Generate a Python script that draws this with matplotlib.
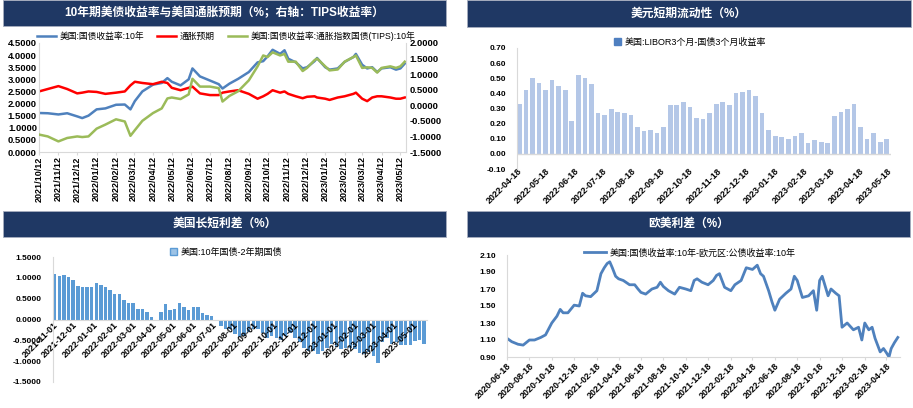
import matplotlib
matplotlib.use('Agg')
import matplotlib.pyplot as plt
from matplotlib.patches import Rectangle, Patch
import pandas as pd

plt.rcParams['font.family'] = ['Liberation Sans', 'Noto Sans CJK SC', 'DejaVu Sans']

## ---- data: panel 1 (10y yield, breakeven, TIPS) ----
dates_p1 = ['2021-10-12', '2021-10-26', '2021-11-12', '2021-11-26', '2021-12-12', '2021-12-20', '2021-12-30',
            '2022-01-12', '2022-01-26', '2022-02-12', '2022-02-26', '2022-03-07', '2022-03-14', '2022-03-26',
            '2022-04-12', '2022-04-26', '2022-05-05', '2022-05-12', '2022-05-26', '2022-06-08', '2022-06-14',
            '2022-06-26', '2022-07-12', '2022-07-26', '2022-08-01', '2022-08-12', '2022-08-26', '2022-09-12',
            '2022-09-26', '2022-10-05', '2022-10-12', '2022-10-20', '2022-11-01', '2022-11-08', '2022-11-14',
            '2022-11-26', '2022-12-07', '2022-12-14', '2022-12-26', '2022-12-30', '2023-01-12', '2023-01-19',
            '2023-02-01', '2023-02-12', '2023-02-26', '2023-03-02', '2023-03-12', '2023-03-20', '2023-03-28',
            '2023-04-05', '2023-04-12', '2023-04-26', '2023-05-05', '2023-05-12', '2023-05-19']
us10y = [1.61, 1.60, 1.55, 1.60, 1.47, 1.40, 1.50, 1.76, 1.80, 1.95, 1.96, 1.76, 2.10, 2.50, 2.78, 2.85, 3.05,
         2.90, 2.75, 3.00, 3.45, 3.12, 2.95, 2.80, 2.62, 2.82, 3.02, 3.30, 3.70, 3.75, 3.95, 4.22, 4.05, 4.20,
         3.85, 3.70, 3.45, 3.50, 3.75, 3.88, 3.50, 3.40, 3.45, 3.72, 3.92, 4.05, 3.60, 3.45, 3.50, 3.30, 3.45,
         3.50, 3.40, 3.45, 3.65]
breakeven = [2.50, 2.60, 2.72, 2.60, 2.42, 2.45, 2.50, 2.48, 2.40, 2.45, 2.50, 2.75, 2.90, 2.85, 2.80, 2.90, 2.85,
             2.65, 2.55, 2.65, 2.70, 2.42, 2.35, 2.35, 2.45, 2.50, 2.55, 2.40, 2.20, 2.30, 2.40, 2.55, 2.45, 2.50,
             2.40, 2.30, 2.22, 2.28, 2.30, 2.25, 2.20, 2.15, 2.25, 2.30, 2.40, 2.45, 2.20, 2.10, 2.25, 2.30, 2.30,
             2.25, 2.20, 2.20, 2.25]
tips = [-0.94, -1.00, -1.16, -1.05, -1.00, -1.02, -1.00, -0.75, -0.62, -0.45, -0.52, -0.98, -0.80, -0.50, -0.25,
        -0.10, 0.22, 0.25, 0.20, 0.35, 0.85, 0.60, 0.60, 0.55, 0.12, 0.30, 0.45, 0.80, 1.25, 1.60, 1.55, 1.70,
        1.60, 1.65, 1.40, 1.40, 1.10, 1.20, 1.45, 1.50, 1.25, 1.12, 1.15, 1.40, 1.55, 1.60, 1.20, 1.22, 1.20,
        1.05, 1.20, 1.25, 1.20, 1.25, 1.40]

## ---- panel 2: LIBOR 3m - T-bill 3m, weekly (weeks starting 2022-04-18) ----
libor_week_start = '2022-04-18'
libor_spread = [0.33, 0.42, 0.50, 0.47, 0.42, 0.49, 0.45, 0.42, 0.22, 0.52,
                0.50, 0.46, 0.27, 0.26, 0.30, 0.28, 0.27, 0.26, 0.18, 0.15,
                0.16, 0.14, 0.18, 0.32, 0.32, 0.34, 0.31, 0.24, 0.23, 0.27,
                0.33, 0.34, 0.32, 0.40, 0.41, 0.42, 0.38, 0.27, 0.16, 0.12,
                0.11, 0.10, 0.12, 0.14, 0.07, 0.09, 0.08, 0.07, 0.25, 0.28,
                0.30, 0.33, 0.18, 0.10, 0.14, 0.08, 0.10]

## ---- panel 3: 10y - 2y, weekly (weeks starting 2021-11-01) ----
curve_week_start = '2021-11-01'
curve_spread = [1.10, 1.05, 1.07, 1.02, 0.95,
                0.80, 0.77, 0.78, 0.78,
                0.87, 0.82, 0.78, 0.72, 0.62,
                0.61, 0.48, 0.40, 0.40,
                0.26, 0.25, 0.18, 0.05,
                -0.03, 0.18, 0.37, 0.22,
                0.25, 0.40, 0.30, 0.22, 0.30,
                0.29, 0.15, 0.10, 0.09,
                -0.03, -0.15, -0.22, -0.22,
                -0.35, -0.42, -0.40, -0.30, -0.22,
                -0.22, -0.32, -0.45, -0.40,
                -0.45, -0.48, -0.40, -0.32, -0.45,
                -0.55, -0.68, -0.75, -0.75,
                -0.82, -0.75, -0.68, -0.58,
                -0.65, -0.70, -0.68, -0.68, -0.70,
                -0.80, -0.82, -0.78, -0.88,
                -1.05, -0.55, -0.45, -0.58,
                -0.55, -0.60, -0.60, -0.62,
                -0.52, -0.50, -0.58]

## ---- panel 4: US 10y - Euro 10y ----
dates_p4 = ['2020-06-18', '2020-07-01', '2020-07-18', '2020-08-01', '2020-08-18', '2020-09-01', '2020-09-18',
            '2020-10-01', '2020-10-18', '2020-11-01', '2020-11-10', '2020-11-18', '2020-12-01', '2020-12-18',
            '2021-01-01', '2021-01-10', '2021-01-18', '2021-02-01', '2021-02-18', '2021-03-01', '2021-03-10',
            '2021-03-18', '2021-03-25', '2021-04-01', '2021-04-10', '2021-04-18', '2021-05-01', '2021-05-18',
            '2021-06-01', '2021-06-10', '2021-06-18', '2021-07-01', '2021-07-18', '2021-08-01', '2021-08-10',
            '2021-08-18', '2021-09-01', '2021-09-18', '2021-10-01', '2021-10-18', '2021-11-01', '2021-11-10',
            '2021-11-18', '2021-12-01', '2021-12-18', '2022-01-01', '2022-01-10', '2022-01-18', '2022-02-01',
            '2022-02-18', '2022-03-01', '2022-03-18', '2022-04-01', '2022-04-18', '2022-05-01', '2022-05-10',
            '2022-05-18', '2022-06-01', '2022-06-10', '2022-06-18', '2022-07-01', '2022-07-18', '2022-08-01',
            '2022-08-10', '2022-08-18', '2022-09-01', '2022-09-18', '2022-10-01', '2022-10-10', '2022-10-18',
            '2022-10-25', '2022-11-01', '2022-11-10', '2022-11-18', '2022-12-01', '2022-12-10', '2022-12-18',
            '2023-01-01', '2023-01-18', '2023-02-01', '2023-02-10', '2023-02-18', '2023-03-01', '2023-03-10',
            '2023-03-18', '2023-04-01', '2023-04-10', '2023-04-18', '2023-04-25', '2023-05-01', '2023-05-10',
            '2023-05-19']
us_eu_spread = [1.12, 1.08, 1.05, 1.04, 1.10, 1.10, 1.13, 1.16, 1.30, 1.38,
                1.46, 1.42, 1.42, 1.51, 1.50, 1.65, 1.62, 1.61, 1.68, 1.88,
                1.95, 2.00, 2.02, 1.95, 1.85, 1.82, 1.80, 1.75, 1.75, 1.70,
                1.66, 1.64, 1.70, 1.72, 1.78, 1.73, 1.68, 1.64, 1.72, 1.70,
                1.68, 1.80, 1.82, 1.78, 1.75, 1.80, 1.86, 1.88, 1.72, 1.68,
                1.75, 1.80, 1.95, 1.93, 1.98, 1.88, 1.85, 1.68, 1.55, 1.45,
                1.58, 1.65, 1.70, 1.85, 1.80, 1.60, 1.62, 1.68, 1.45, 1.80,
                1.85, 1.75, 1.62, 1.70, 1.65, 1.62, 1.25, 1.30, 1.22, 1.25,
                1.10, 1.30, 1.22, 1.25, 1.12, 0.96, 1.00, 0.95, 0.90, 1.00,
                1.07, 1.13]

titles = ['10年期美债收益率与美国通胀预期（%；右轴：TIPS收益率）', '美元短期流动性（%）',
          '美国长短利差（%）', '欧美利差（%）']

## ---- figure helpers (pixel based layout) ----
W, H = 913, 408
fig = plt.figure(figsize=(W / 100, H / 100), dpi=100)
grey = '#D9D9D9'
navy = '#1F3864'


def px_axes(x0, x1, y0, y1):
    return fig.add_axes([x0 / W, 1 - y1 / H, (x1 - x0) / W, (y1 - y0) / H])


def banner(x0, x1, y0, y1, text):
    fig.add_artist(Rectangle((x0 / W, 1 - y1 / H), (x1 - x0) / W, (y1 - y0) / H,
                             transform=fig.transFigure, facecolor=navy, edgecolor='#A6AEBF', lw=0.6))
    fig.text((x0 + x1) / 2 / W, 1 - (y0 + y1) / 2 / H, text, color='white', fontsize=8.5,
             fontweight='bold', ha='center', va='center')


def yticks(ax, vals, fmt, size=6, pad=8):
    ax.set_yticks(vals)
    ax.set_yticklabels([fmt % v for v in vals], fontsize=size, fontweight='bold')
    ax.tick_params(axis='y', length=0, pad=pad)


def date_ticks(ax, ticks, fmt, rot):
    ax.set_xticks(ticks)
    if rot == 90:
        ax.set_xticklabels([t.strftime(fmt) for t in ticks], rotation=90, fontsize=6.5, fontweight='bold')
    else:
        ax.set_xticklabels([t.strftime(fmt) for t in ticks], rotation=45, ha='right', va='top',
                           rotation_mode='anchor', fontsize=6.5, fontweight='bold')


def legend_at(ax, handles, labels, cx, cy, size=6.5, **kw):
    ax.legend(handles, labels, loc='center', bbox_to_anchor=(cx / W, 1 - cy / H),
              bbox_transform=fig.transFigure, frameon=False, fontsize=size, **kw)


banner(3, 446, 0, 26, titles[0])
banner(467, 911, 0, 27, titles[1])
banner(3, 446, 211, 237, titles[2])
banner(467, 910, 211, 237, titles[3])

## ---- panel 1 ----
d1 = pd.to_datetime(dates_p1)
ax1 = px_axes(39, 406, 43, 152)
l1, = ax1.plot(d1, us10y, color='#4F81BD', lw=1.8)
l2, = ax1.plot(d1, breakeven, color='#FF0000', lw=1.8)
ax1r = ax1.twinx()
l3, = ax1r.plot(d1, tips, color='#9BBB59', lw=1.8)
ax1.set_ylim(0, 4.5)
ax1r.set_ylim(-1.5, 2.0)
ax1.set_xlim(pd.Timestamp('2021-10-12'), pd.Timestamp('2023-05-21'))
for s in ['top', 'right']:
    ax1.spines[s].set_visible(False)
for s in ['top', 'left', 'bottom']:
    ax1r.spines[s].set_visible(False)
ax1.spines['left'].set_color(grey)
ax1.spines['bottom'].set_color(grey)
ax1r.spines['right'].set_color(grey)
yticks(ax1, [0.5 * i for i in range(10)], '%.4f', size=6.8, pad=1.5)
yticks(ax1r, [-1.5 + 0.5 * i for i in range(8)], '%.4f', size=6.8, pad=2.5)
date_ticks(ax1, pd.date_range('2021-10-12', '2023-05-12', freq=pd.DateOffset(months=1)), '%Y/%m/%d', 90)
ax1.tick_params(axis='x', length=2, color=grey, pad=1)
legend_at(ax1r, [l1, l2, l3], ['美国:国债收益率:10年', '通胀预期', '美国:国债收益率:通胀指数国债(TIPS):10年'],
          226, 36, size=6.3, ncol=3, handlelength=2.2, columnspacing=1.5, handletextpad=0.4)

## ---- panel 2 ----
weeks2 = pd.date_range(libor_week_start, periods=len(libor_spread), freq='7D')
ax2 = px_axes(517, 891, 48, 169)
ax2.bar(weeks2, libor_spread, width=5.0, align='edge', color='#B4C7E7')
ax2.axhline(0, color=grey, lw=1)
ax2.set_ylim(-0.1, 0.7)
ax2.set_xlim(pd.Timestamp('2022-04-18'), pd.Timestamp('2023-05-22'))
for s in ['top', 'right', 'bottom']:
    ax2.spines[s].set_visible(False)
ax2.spines['left'].set_color(grey)
yticks(ax2, [-0.1 + 0.1 * i for i in range(9)], '%.2f')
date_ticks(ax2, pd.date_range('2022-04-18', '2023-05-18', freq=pd.DateOffset(months=1)), '%Y-%m-%d', 45)
ax2.tick_params(axis='x', length=0, pad=-2)
legend_at(ax2, [Patch(color='#4F7FC0')], ['美国:LIBOR3个月-国债3个月收益率'], 690, 42,
          handlelength=0.7, handleheight=0.7, handletextpad=0.4)

## ---- panel 3 ----
weeks3 = pd.date_range(curve_week_start, periods=len(curve_spread), freq='7D')
ax3 = px_axes(53, 427, 257, 382)
ax3.bar(weeks3, curve_spread, width=5.2, align='edge', color='#5B9BD5')
ax3.set_ylim(-1.5, 1.5)
ax3.set_xlim(pd.Timestamp('2021-11-01'), pd.Timestamp('2023-05-22'))
for s in ['top', 'right']:
    ax3.spines[s].set_visible(False)
ax3.spines['left'].set_color(grey)
ax3.spines['bottom'].set_color(grey)
ax3.spines['bottom'].set_position(('data', 0))
yticks(ax3, [-1.5 + 0.5 * i for i in range(7)], '%.4f')
date_ticks(ax3, pd.date_range('2021-11-01', '2023-05-01', freq='MS'), '%Y-%m-%d', 45)
ax3.tick_params(axis='x', length=0, pad=0.5)
legend_at(ax3, [Patch(facecolor='#9DC3E6', edgecolor='#5B9BD5')], ['美国:10年国债-2年期国债'], 226, 252,
          handlelength=0.7, handleheight=0.7, handletextpad=0.4)

## ---- panel 4 ----
d4 = pd.to_datetime(dates_p4)
ax4 = px_axes(507, 900, 255, 357)
l4, = ax4.plot(d4, us_eu_spread, color='#4F81BD', lw=2.0)
ax4.set_ylim(0.9, 2.1)
ax4.set_xlim(pd.Timestamp('2020-06-18'), pd.Timestamp('2023-05-25'))
for s in ['top', 'right']:
    ax4.spines[s].set_visible(False)
ax4.spines['left'].set_color(grey)
ax4.spines['bottom'].set_color(grey)
yticks(ax4, [0.9 + 0.2 * i for i in range(7)], '%.2f')
date_ticks(ax4, pd.date_range('2020-06-18', '2023-04-18', freq=pd.DateOffset(months=2)), '%Y-%m-%d', 45)
ax4.tick_params(axis='x', length=2.5, color=grey, pad=0.5)
legend_at(ax4, [l4], ['美国:国债收益率:10年-欧元区:公债收益率:10年'], 690, 253,
          handlelength=2.5, handletextpad=0.4)

fig.savefig('out.png', dpi=100)
